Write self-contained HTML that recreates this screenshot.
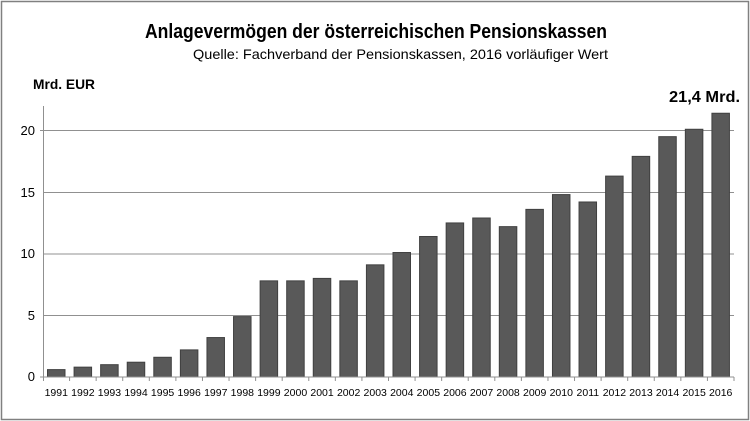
<html><head><style>body{margin:0;background:#fff}</style></head><body>
<svg width="750" height="421" xmlns="http://www.w3.org/2000/svg" font-family="Liberation Sans, sans-serif">
<rect x="1.5" y="1.5" width="747" height="418" fill="#fff" stroke="#808080" stroke-width="1.5"/>
<text x="145" y="38" font-size="20" font-weight="bold" fill="#000" textLength="462" lengthAdjust="spacingAndGlyphs">Anlagevermögen der österreichischen Pensionskassen</text>
<text x="193" y="59" font-size="14" fill="#000" textLength="415" lengthAdjust="spacingAndGlyphs">Quelle: Fachverband der Pensionskassen, 2016 vorläufiger Wert</text>
<text x="33" y="89" font-size="14" font-weight="bold" fill="#000" textLength="62" lengthAdjust="spacingAndGlyphs">Mrd. EUR</text>
<text x="669" y="102" font-size="16" font-weight="bold" fill="#000" textLength="71" lengthAdjust="spacingAndGlyphs">21,4 Mrd.</text>
<g stroke="#909090" stroke-width="1">
<line x1="43" y1="130.5" x2="734" y2="130.5"/>
<line x1="43" y1="192.5" x2="734" y2="192.5"/>
<line x1="43" y1="254" x2="734" y2="254"/>
<line x1="43" y1="315.5" x2="734" y2="315.5"/>
<line x1="43.5" y1="106" x2="43.5" y2="377"/>
<line x1="40" y1="130.5" x2="43" y2="130.5"/>
</g>
<g font-size="13" fill="#000" text-anchor="end">
<text x="35" y="135">20</text><text x="35" y="197">15</text><text x="35" y="258">10</text><text x="35" y="320">5</text><text x="35" y="381">0</text>
</g>
<g id="bars" fill="#595959" stroke="#404040" stroke-width="1"></g>
<line x1="40" y1="377" x2="734" y2="377" stroke="#909090"/>
<g id="ticks" stroke="#909090"></g>
<g id="labels" font-size="10.5" text-anchor="middle" fill="#000"></g>
<script>
var v=[0.6,0.8,1.0,1.2,1.6,2.2,3.2,4.9,7.8,7.8,8.0,7.8,9.1,10.1,11.4,12.5,12.9,12.2,13.6,14.8,14.2,16.3,17.9,19.5,20.1,21.4];
var ns="http://www.w3.org/2000/svg",b=document.getElementById("bars"),t=document.getElementById("ticks"),l=document.getElementById("labels");
var w=(734-43)/26,s=246.5/20;
for(var i=0;i<26;i++){var x=43+i*w;var r=document.createElementNS(ns,"rect");var h=v[i]*s;
r.setAttribute("x",x+4.5);r.setAttribute("y",377-h);r.setAttribute("width",17.5);r.setAttribute("height",h);b.appendChild(r);
var k=document.createElementNS(ns,"line");k.setAttribute("x1",x+w);k.setAttribute("x2",x+w);k.setAttribute("y1",377);k.setAttribute("y2",381);t.appendChild(k);
var tx=document.createElementNS(ns,"text");tx.setAttribute("x",x+w/2);tx.setAttribute("y",396);tx.textContent=1991+i;l.appendChild(tx);}
var k0=document.createElementNS(ns,"line");k0.setAttribute("x1",43.5);k0.setAttribute("x2",43.5);k0.setAttribute("y1",377);k0.setAttribute("y2",381);t.appendChild(k0);
</script>
</svg>
</body></html>
